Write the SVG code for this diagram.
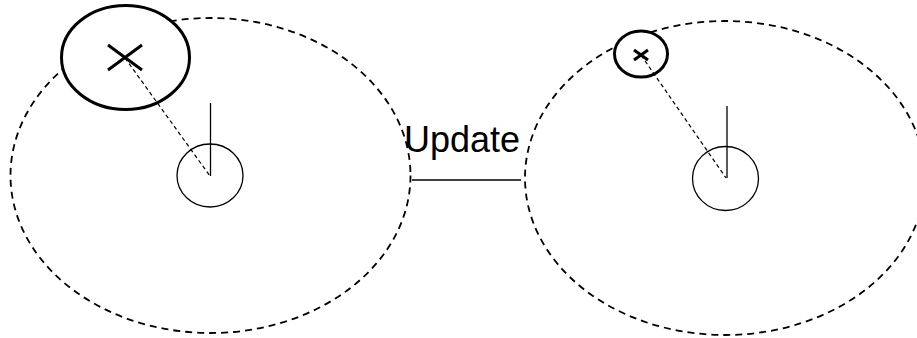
<svg xmlns="http://www.w3.org/2000/svg" width="917" height="338" viewBox="0 0 917 338">
<style>
.big{fill:none;stroke:#000;stroke-width:1.8;stroke-dasharray:7,5}
.small{fill:none;stroke:#000;stroke-width:1.3}
.thick{fill:#fff;stroke:#000;stroke-width:3}
.cross{stroke:#000;stroke-width:3;fill:none}
.ray{stroke:#000;stroke-width:1.2;stroke-dasharray:4,3;fill:none}
.line{stroke:#000;stroke-width:1.3;fill:none}
.lbl{font-family:"Liberation Sans",Arial,sans-serif;font-size:36px;fill:#000}
</style>
<rect width="917" height="338" fill="#fff"/>
<g id="left-node">
<ellipse class="big" cx="210.5" cy="175.5" rx="200" ry="157.5"/>
<ellipse class="small" cx="210" cy="175.5" rx="33" ry="31.5"/>
<line class="line" x1="210.5" y1="103" x2="210.5" y2="176"/>
<ellipse class="thick" cx="125.5" cy="57.5" rx="64" ry="52"/>
<path class="cross" d="M108,45 L142,70 M142,45 L108,70"/>
</g>
<g id="right-node">
<ellipse class="big" cx="725" cy="178" rx="200" ry="157"/>
<ellipse class="small" cx="725.5" cy="178.5" rx="33" ry="32"/>
<line class="line" x1="727" y1="106" x2="727" y2="178"/>
<ellipse class="thick" cx="641" cy="54" rx="26.5" ry="23"/>
<path class="cross" d="M634,50 L648,60 M648,50 L634,60"/>
</g>
<g id="connectors">
<line class="ray" x1="125" y1="58" x2="210" y2="176"/>
<line class="ray" x1="641" y1="55" x2="726" y2="178"/>
<line class="line" x1="412" y1="180" x2="521" y2="180"/>
</g>
<text class="lbl" x="404" y="151.5">Update</text>
</svg>
